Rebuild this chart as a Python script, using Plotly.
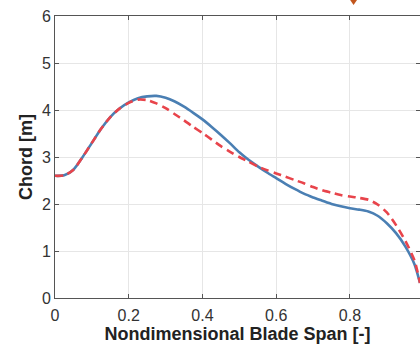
import plotly.graph_objects as go

# Spanwise stations (nondimensional) and chord distributions [m]
span = [0.000, 0.025, 0.050, 0.075, 0.100, 0.125, 0.150, 0.175, 0.200, 0.225,
        0.250, 0.275, 0.300, 0.325, 0.350, 0.375, 0.400, 0.425, 0.450, 0.475,
        0.500, 0.525, 0.550, 0.575, 0.600, 0.625, 0.650, 0.675, 0.700, 0.725,
        0.750, 0.775, 0.800, 0.825, 0.850, 0.875, 0.900, 0.925, 0.950, 0.975,
        0.990]
chord_solid = [2.60, 2.61, 2.73, 3.00, 3.30, 3.60, 3.85, 4.03, 4.16, 4.25,
               4.29, 4.30, 4.26, 4.18, 4.07, 3.94, 3.80, 3.64, 3.47, 3.29,
               3.10, 2.94, 2.80, 2.67, 2.55, 2.43, 2.32, 2.22, 2.14, 2.07,
               2.00, 1.95, 1.91, 1.88, 1.84, 1.75, 1.59, 1.38, 1.10, 0.72,
               0.32]
chord_dashed = [2.60, 2.61, 2.73, 3.00, 3.30, 3.60, 3.85, 4.03, 4.15, 4.22,
                4.21, 4.14, 4.04, 3.91, 3.78, 3.64, 3.51, 3.37, 3.23, 3.11,
                3.00, 2.90, 2.80, 2.72, 2.65, 2.58, 2.51, 2.44, 2.36, 2.29,
                2.24, 2.19, 2.16, 2.13, 2.09, 1.99, 1.82, 1.55, 1.22, 0.80,
                0.32]

x_ticks = [0, 0.2, 0.4, 0.6, 0.8]
y_ticks = [0, 1, 2, 3, 4, 5, 6]

FONT = "Liberation Sans, Arial"

fig = go.Figure()
fig.add_trace(go.Scatter(x=span, y=chord_solid, mode="lines",
                         line=dict(color="#4a7fb3", width=2.6, shape="spline", smoothing=0.7),
                         showlegend=False))
fig.add_trace(go.Scatter(x=span, y=chord_dashed, mode="lines",
                         line=dict(color="#e8444b", width=2.6, dash="8px,5px",
                                   shape="spline", smoothing=0.7),
                         showlegend=False))

axis_common = dict(showline=True, linecolor="#555555", linewidth=1, mirror="ticks",
                   ticks="inside", ticklen=4, tickcolor="#555555",
                   showgrid=True, gridcolor="#e6e6e6", gridwidth=1, zeroline=False,
                   tickfont=dict(family=FONT, size=16, color="#333333"))

fig.update_xaxes(range=[0, 0.99], tickvals=x_ticks, ticktext=[str(t) for t in x_ticks],
                 ticklabelstandoff=3,
                 title=dict(text="<b>Nondimensional Blade Span [-]</b>",
                            font=dict(family=FONT, size=18, color="#222222"),
                            standoff=2),
                 **axis_common)
fig.update_yaxes(range=[0, 6], tickvals=y_ticks,
                 title=dict(text="<b>Chord [m]</b>",
                            font=dict(family=FONT, size=18, color="#222222"),
                            standoff=4),
                 **axis_common)

# small arrow tip above the axes
fig.add_shape(type="path", xref="paper", yref="paper",
              path="M 0.808 1.058 L 0.828 1.058 L 0.818 1.039 Z",
              fillcolor="#c2561e", line=dict(width=0))

fig.update_layout(width=420, height=345, margin=dict(l=55, r=0, t=16, b=47),
                  plot_bgcolor="white", paper_bgcolor="white")

fig.write_html("out.html")
